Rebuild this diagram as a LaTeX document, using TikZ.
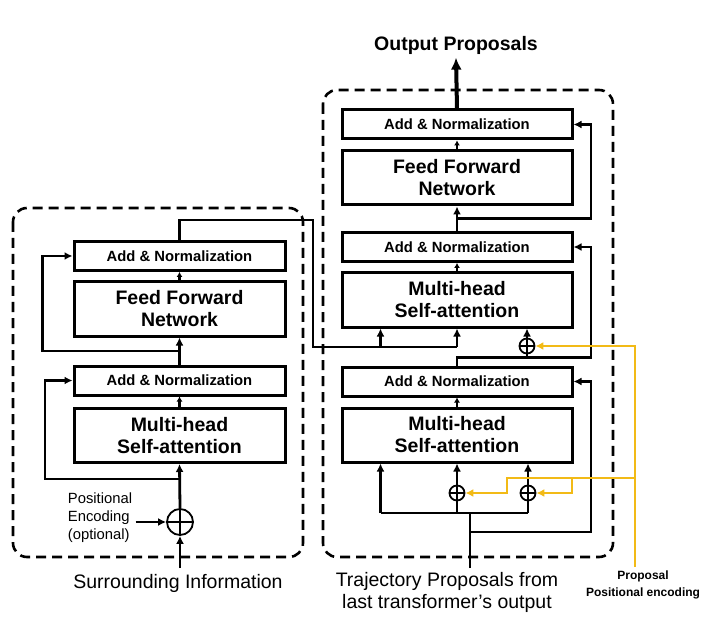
\documentclass[tikz,border=0pt]{standalone}
\usepackage{fontspec}
\setmainfont{Liberation Sans}
\usetikzlibrary{arrows.meta,positioning,calc}
\definecolor{propyellow}{RGB}{242,186,22}

\begin{document}
\begin{tikzpicture}[x=1pt, y=-1pt,
  lnbox/.style={draw, line width=3pt, minimum width=211pt, minimum height=29pt, inner sep=0pt, font=\bfseries\fontsize{14.8}{16}\selectfont},
  bigbox/.style={draw, line width=3pt, minimum width=211pt, minimum height=54pt, inner sep=0pt, align=center, font=\bfseries\fontsize{19.5}{22}\selectfont},
  plus/.style={draw, circle, line width=1.8pt, inner sep=0pt,
    path picture={\draw[line width=1.8pt] (path picture bounding box.north) -- (path picture bounding box.south)
      (path picture bounding box.west) -- (path picture bounding box.east);}},
  wire/.style={line width=2.8pt},
  arr/.style={-{Latex[length=8pt,width=8pt]}, line width=2.8pt},
  yel/.style={draw=propyellow, line width=2.2pt},
  dashbox/.style={line width=2.6pt, dash pattern=on 10pt off 6pt, rounded corners=14pt},
  note/.style={align=center, font=\fontsize{19.5}{22}\selectfont}
]
\useasboundingbox (0,0) rectangle (720,628);

% dashed frames
\draw[dashbox] (13,208) rectangle (303,557);
\draw[dashbox] (323,90) rectangle (613,557);

% left block (encoder on surrounding information)
\node[lnbox] (lan2) at (179.5,256) {Add \& Normalization};
\node[bigbox] (lffn) at (179.5,309) {Feed Forward\\Network};
\node[lnbox] (lan1) at (179.5,380.5) {Add \& Normalization};
\node[bigbox] (lmha) at (179.5,435.5) {Multi-head\\Self-attention};
\node[plus, minimum size=26pt] (lplus) at (180,522) {};
\coordinate (lin) at (180,568);
\node[align=left, font=\fontsize{14.8}{18}\selectfont] (lpos) at (100,518) {Positional\\Encoding\\(optional)};
\node[note] (lsurr) at (178,583) {Surrounding Information};

\draw[arr] (lin) -- (lplus.south);
\draw[arr] (lpos.east |- lplus.west) -- (lplus.west);
\draw[arr] (lplus.north) -- (lmha.south);
\coordinate (lsplit1) at (180,479);
\draw[arr] (lsplit1) -- ++(-135,0) |- (lan1.west);
\draw[arr, -{Latex[length=5pt,width=6pt]}] (lmha.north) -- (lan1.south);
\draw[arr] (lan1.north) -- (lffn.south);
\coordinate (lsplit2) at ($(lan1.north)!0.5!(lffn.south)$);
\draw[arr] (lsplit2) -- ++(-137,0) |- (lan2.west);
\draw[arr, -{Latex[length=5pt,width=6pt]}] (lffn.north) -- (lan2.south);

% right block (decoder on trajectory proposals)
\node[lnbox, minimum width=230pt] (ran3) at (457,124.5) {Add \& Normalization};
\node[bigbox, minimum width=230pt] (rffn) at (457,178) {Feed Forward\\Network};
\node[lnbox, minimum width=230pt] (ran2) at (457,247) {Add \& Normalization};
\node[bigbox, minimum width=230pt] (rmha2) at (457,300) {Multi-head\\Self-attention};
\node[lnbox, minimum width=230pt] (ran1) at (457,381.5) {Add \& Normalization};
\node[bigbox, minimum width=230pt] (rmha1) at (457,435) {Multi-head\\Self-attention};
\node[plus, minimum size=15pt] (rp2) at (527,346) {};
\node[plus, minimum size=15pt] (rpa) at (457,493) {};
\node[plus, minimum size=15pt] (rpb) at (528,493) {};
\node[font=\bfseries\fontsize{19.5}{22}\selectfont] (rout) at (456,45) {Output Proposals};
\node[note] (rtraj) at (447,592) {Trajectory Proposals from\\last transformer’s output};
\coordinate (rin) at (470,568);
\coordinate (rbus) at (470,513);
\coordinate (rq1) at ([xshift=40pt]rmha1.south west);
\coordinate (rq2) at ([xshift=40pt]rmha2.south west);

% output of left block feeds the cross attention keys/values
\coordinate (lbus) at (313,347);
\draw[wire] (lan2.north) -- ++(0,-20) -| (lbus) -- (lbus -| rmha2.south);
\draw[arr] (rq2 |- lbus) -- (rq2);
\draw[arr] (lbus -| rmha2.south) -- (rmha2.south);

% lower self-attention
\draw[wire] (rin) -- (rbus);
\draw[wire] (rq1 |- rbus) -- (rpb |- rbus);
\draw[arr] (rq1 |- rbus) -- (rq1);
\draw[wire] (rpa |- rbus) -- (rpa.south);
\draw[wire] (rpb |- rbus) -- (rpb.south);
\draw[arr] (rpa.north) -- (rpa.north |- rmha1.south);
\draw[arr] (rpb.north) -- (rpb.north |- rmha1.south);
\coordinate (rsplit1) at (470,532);
\draw[arr] (rsplit1) -- ++(121,0) |- (ran1.east);
\draw[arr, -{Latex[length=5pt,width=6pt]}] (rmha1.north) -- (ran1.south);

% middle attention
\coordinate (rsplit2) at ([yshift=8pt]ran1.north);
\draw[wire] (ran1.north) -- (rsplit2) -| (rp2.south);
\draw[arr] (rp2.north) -- (rp2.north |- rmha2.south);
\draw[arr] (rsplit2) -- ++(134,0) |- (ran2.east);
\draw[arr, -{Latex[length=5pt,width=6pt]}] (rmha2.north) -- (ran2.south);

% feed forward
\draw[arr] (ran2.north) -- (rffn.south);
\coordinate (rsplit3) at ($(ran2.north)!0.5!(rffn.south)$);
\draw[arr] (rsplit3) -- ++(134,0) |- (ran3.east);
\draw[arr, -{Latex[length=5pt,width=6pt]}] (rffn.north) -- (ran3.south);
\draw[-{Latex[length=12pt,width=11pt]}, line width=4pt] (ran3.north) -- (rout.south);

% proposal positional encoding
\coordinate (ypt) at (635,567);
\coordinate (yj) at (635,478);
\node[align=center, font=\bfseries\fontsize{12}{17}\selectfont] (ylab) at (643,585) {Proposal\\Positional encoding};
\draw[yel, arr, line width=2.2pt, draw=propyellow] (ypt) |- (rp2.east);
\draw[yel, arr, line width=2.2pt, draw=propyellow] (yj) -- ++(-128,0) |- (rpa.east);
\draw[yel, arr, line width=2.2pt, draw=propyellow] ([xshift=-63pt]yj) |- (rpb.east);

\end{tikzpicture}
\end{document}
